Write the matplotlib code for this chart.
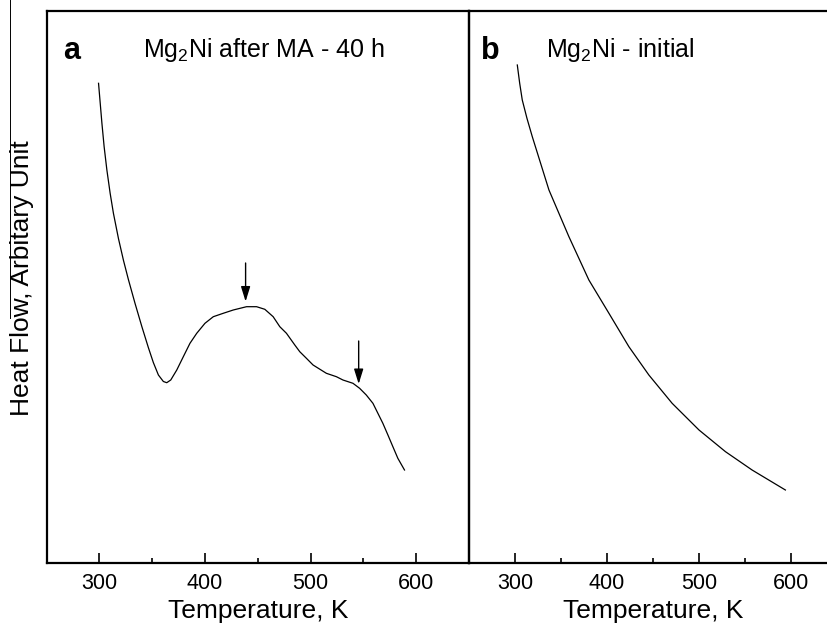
import matplotlib
matplotlib.use("Agg")
import matplotlib.pyplot as plt
from matplotlib.lines import Line2D

plt.rcParams['font.family'] = ['Liberation Sans', 'DejaVu Sans']
plt.rcParams['mathtext.fontset'] = 'custom'
plt.rcParams['mathtext.rm'] = 'Liberation Sans'
plt.rcParams['mathtext.it'] = 'Liberation Sans:italic'

# Panel a: Mg2Ni after MA - 40 h (heat flow, arbitrary units)
temp_a = [299.1, 300.7, 302.3, 304.4, 307.0, 310.1, 313.2, 318.0, 322.7, 327.4,
          333.7, 340.1, 346.3, 351.0, 355.8, 360.5, 363.7, 367.5, 373.2, 379.4,
          385.7, 392.1, 399.9, 407.8, 417.2, 426.7, 439.3, 448.8, 456.6, 464.5,
          470.8, 477.1, 485.0, 489.7, 496.0, 502.3, 514.9, 524.4, 530.6, 540.1,
          546.4, 552.7, 559.0, 563.7, 568.4, 573.2, 577.9, 582.6, 588.9]
flow_a = [479.7, 459.7, 439.7, 416.3, 393.0, 369.7, 349.7, 324.3, 302.7, 283.4,
          259.5, 236.5, 215.4, 200.5, 188.0, 181.5, 180.3, 183.0, 193.0, 206.3,
          219.7, 229.7, 239.7, 246.3, 249.7, 253.0, 256.3, 256.3, 253.7, 246.3,
          236.3, 229.7, 218.0, 211.3, 204.7, 198.0, 189.7, 186.3, 183.0, 179.7,
          174.7, 168.0, 159.7, 149.7, 139.7, 128.0, 116.3, 104.7, 93.0]

# Panel b: Mg2Ni - initial
temp_b = [302.5, 305.1, 307.9, 313.0, 318.8, 336.9, 358.6, 380.3, 402.1, 423.8,
          445.5, 470.8, 500.0, 528.8, 557.7, 593.9]
flow_b = [498.0, 479.7, 463.0, 444.7, 426.3, 373.0, 326.3, 283.0, 249.7, 216.3,
          188.0, 159.7, 133.0, 111.3, 93.0, 73.0]

# arrows marking the thermal events in panel a
arrow_temp = [438.4, 545.5]
arrow_tip = [261.5, 179]
arrow_tail = [300, 222]

xticks_major = [300, 400, 500, 600]
xticks_minor = [350, 450, 550]

W, H = 827, 626
fig = plt.figure(figsize=(W / 100, H / 100), dpi=100)

left_a, right_a, top, bottom = 46.7, 469, 11, 563
ax_a = fig.add_axes([left_a / W, 1 - bottom / H, (right_a - left_a) / W, (bottom - top) / H])
ax_b = fig.add_axes([right_a / W, 1 - bottom / H, 368 / W, (bottom - top) / H])

for ax in (ax_a, ax_b):
    ax.set_xlim(250, 650)
    ax.set_ylim(0, 552)
    ax.set_yticks([])
    ax.set_xticks(xticks_major)
    ax.set_xticks(xticks_minor, minor=True)
    ax.tick_params(axis='x', which='major', direction='in', length=7.2, width=1.2,
                   labelsize=15.5, pad=7)
    ax.tick_params(axis='x', which='minor', direction='in', length=3.6, width=1.2)
    for sp in ax.spines.values():
        sp.set_linewidth(1.6)
    ax.set_xlabel("Temperature, K", fontsize=19, labelpad=4)
    ax.patch.set_alpha(0)

ax_a.plot(temp_a, flow_a, color='black', lw=0.9)
ax_b.plot(temp_b, flow_b, color='black', lw=0.9)

for t, tip, tail in zip(arrow_temp, arrow_tip, arrow_tail):
    ax_a.annotate('', xy=(t, tip), xytext=(t, tail),
                  arrowprops=dict(arrowstyle='-|>,head_length=0.9,head_width=0.28',
                                  lw=1.0, color='black', shrinkA=0, shrinkB=0))

ax_a.text(0.04, 0.955, 'a', transform=ax_a.transAxes, fontsize=22, fontweight='bold',
          va='top', ha='left')
ax_a.text(0.515, 0.955, r'Mg$_2$Ni after MA - 40 h', transform=ax_a.transAxes,
          fontsize=18, va='top', ha='center')
ax_b.text(0.033, 0.955, 'b', transform=ax_b.transAxes, fontsize=22, fontweight='bold',
          va='top', ha='left')
ax_b.text(0.41, 0.955, r'Mg$_2$Ni - initial', transform=ax_b.transAxes,
          fontsize=18, va='top', ha='center')

fig.text(22 / W, 1 - 278 / H, "Heat Flow, Arbitary Unit", rotation=90, fontsize=19,
         ha='center', va='center')
fig.add_artist(Line2D([9.5 / W, 9.5 / W], [1.0, 1 - 318 / H], color='black', lw=0.7))

fig.savefig("out.png", dpi=100)
